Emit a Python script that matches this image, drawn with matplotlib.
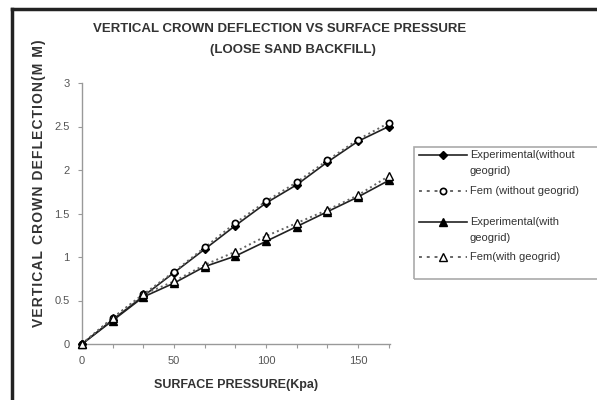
import matplotlib
matplotlib.use('Agg')
from matplotlib import pyplot as plt
from matplotlib.lines import Line2D
from matplotlib.patches import Rectangle

plt.rcParams['font.family'] = ['Liberation Sans', 'DejaVu Sans']

pressure = [0, 16.7, 33.3, 50, 66.7, 83.3, 100, 116.7, 133.3, 150, 166.7]
exp_without = [0, 0.28, 0.55, 0.82, 1.09, 1.36, 1.62, 1.83, 2.09, 2.33, 2.50]
fem_without = [0, 0.30, 0.57, 0.83, 1.11, 1.39, 1.64, 1.86, 2.11, 2.35, 2.54]
exp_with = [0, 0.27, 0.54, 0.70, 0.89, 1.01, 1.18, 1.35, 1.52, 1.69, 1.88]
fem_with = [0, 0.30, 0.57, 0.72, 0.91, 1.06, 1.24, 1.39, 1.54, 1.71, 1.93]

labels = ['Experimental(without\ngeogrid)', 'Fem (without geogrid)',
          'Experimental(with\ngeogrid)', 'Fem(with geogrid)']

W, H = 597, 400
def fx(px): return px / W
def fy(py): return 1 - py / H

fig = plt.figure(figsize=(5.97, 4.0), dpi=100)
ax = fig.add_axes([fx(82), fy(344), (390 - 82)/W, (344 - 83)/H])

styles = [
    dict(color='#222222', ls='-', lw=1.2, marker='D', ms=4, mfc='black', mec='black'),
    dict(color='#666666', ls=':', lw=1.4, marker='o', ms=4.5, mfc='white', mec='black', mew=1.2),
    dict(color='#222222', ls='-', lw=1.2, marker='^', ms=5.5, mfc='black', mec='black'),
    dict(color='#666666', ls=':', lw=1.4, marker='^', ms=5.5, mfc='white', mec='black', mew=1.0),
]
series = [exp_without, fem_without, exp_with, fem_with]
for s, st in zip(series, styles):
    ax.plot(pressure, s, clip_on=False, zorder=3, **st)

ax.set_xlim(0, 167.4)
ax.set_ylim(0, 3)
ax.set_xticks(pressure)
ax.set_xticklabels(['%d' % round(p) if round(p) % 50 == 0 and abs(p - round(p)) < 0.01 else ''
                    for p in pressure])
ax.set_yticks([0, 0.5, 1, 1.5, 2, 2.5, 3])
ax.set_yticklabels(['0', '0.5', '1', '1.5', '2', '2.5', '3'])
for sp in ['top', 'right']:
    ax.spines[sp].set_visible(False)
for sp in ['left', 'bottom']:
    ax.spines[sp].set_color('#999999')
    ax.spines[sp].set_linewidth(1.0)
ax.tick_params(direction='out', length=3, color='#999999', labelsize=8, labelcolor='#555555', pad=6)

ax.set_xlabel('SURFACE PRESSURE(Kpa)', fontsize=9, fontweight='bold', color='#333333', labelpad=9)
ylab = '\u200a'.join('VERTICAL CROWN DEFLECTION(M M)')
fig.text(fx(39), fy(183), ylab, rotation=90, fontsize=10,
         fontweight='bold', color='#333333', ha='center', va='center')

fig.text(fx(280), fy(29), 'VERTICAL CROWN DEFLECTION VS SURFACE PRESSURE',
         fontsize=9.5, fontweight='bold', color='#333333', ha='center', va='center')
fig.text(fx(293), fy(50), '(LOOSE SAND BACKFILL)',
         fontsize=9.5, fontweight='bold', color='#333333', ha='center', va='center')

# hand-made legend, handle on the first text line of each entry
rows = [155, 191, 222, 257]
for st, lab, y in zip(styles, labels, rows):
    kw = dict(st)
    ls = kw['ls'] if kw['ls'] == '-' else (0, (1.5, 2.5))
    fig.add_artist(Line2D([fx(419), fx(467)], [fy(y), fy(y)], transform=fig.transFigure,
                          color=kw['color'], ls=ls, lw=kw['lw']))
    fig.add_artist(Line2D([fx(443)], [fy(y)], transform=fig.transFigure, ls='none',
                          marker=kw['marker'], ms=kw['ms'], mfc=kw['mfc'], mec=kw['mec'],
                          mew=kw.get('mew', 1.0)))
    for i, line in enumerate(lab.split('\n')):
        fig.text(fx(470), fy(y + 16 * i), line, fontsize=8, color='#333333', va='center', ha='left')
fig.patches.append(Rectangle((fx(414), fy(279)), (600 - 414)/W, (279 - 147)/H,
                             transform=fig.transFigure, fill=False, edgecolor='#aaaaaa', lw=1.2))

# outer frame (top and left visible)
fig.add_artist(Line2D([fx(12), fx(12)], [0, fy(9)], transform=fig.transFigure, color='#222222', lw=2.5))
fig.add_artist(Line2D([fx(12), 1], [fy(9), fy(9)], transform=fig.transFigure, color='#222222', lw=2.5))

fig.savefig('out.png', dpi=100)
